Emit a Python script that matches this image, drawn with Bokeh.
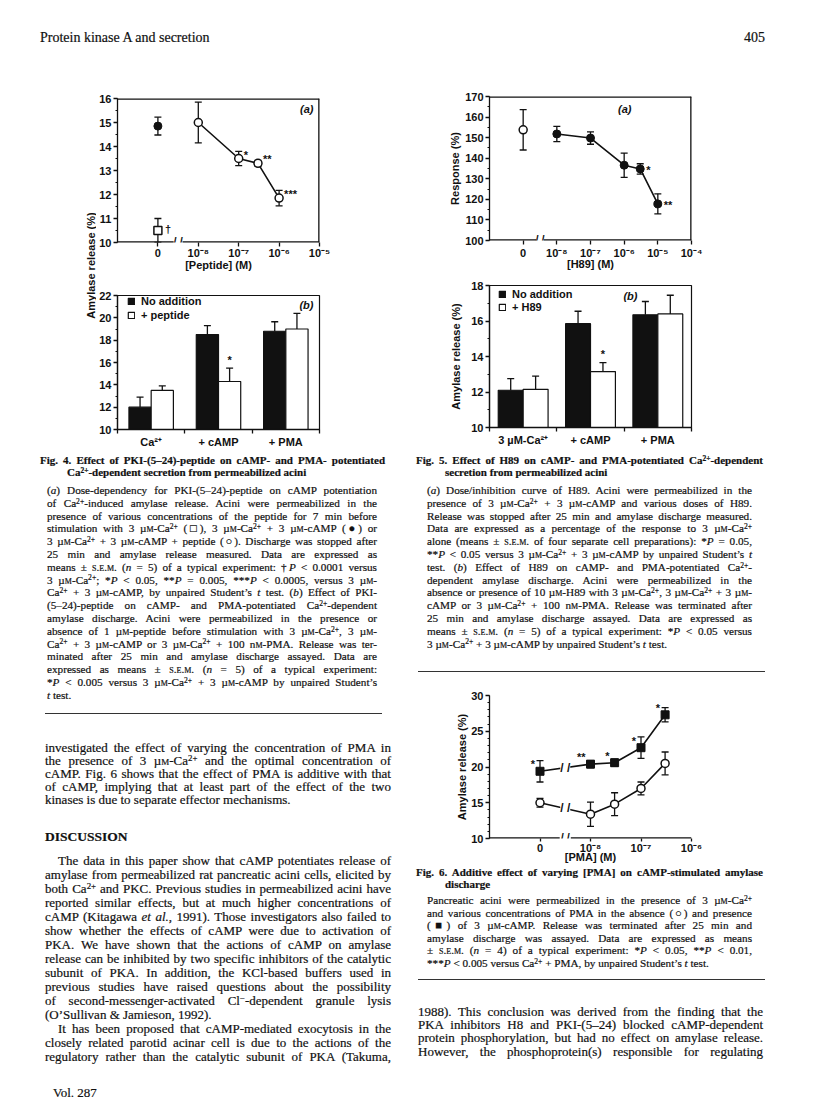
import math
from bokeh.plotting import figure
from bokeh.models import ColumnDataSource, Whisker, TeeHead, FixedTicker, Label, Range1d, Div
from bokeh.layouts import column, row
from bokeh.embed import file_html
from bokeh.resources import INLINE
from bokeh.core.properties import value

# ---------------- data ----------------
# Fig. 4(a)
f4a_conc = [1e-8, 1e-7, 3e-7, 1e-6]
f4a_mean = [15.0, 13.5, 13.3, 11.85]
f4a_sem = [0.85, 0.30, 0.12, 0.32]
f4a_sig = ["", "*", "**", "***"]
f4a_camp_conc = [0]
f4a_camp_mean = [14.85]
f4a_camp_sem = [0.37]
f4a_ca_conc = [0]
f4a_ca_mean = [10.5]
f4a_ca_sem = [0.5]
f4a_ca_sig = ["†"]
f4a_ticks = [0, 1e-8, 1e-7, 1e-6, 1e-5]
f4a_tick_labels = ["0", "10⁻⁸", "10⁻⁷", "10⁻⁶", "10⁻⁵"]

# Fig. 4(b)
f4b_groups = ["Ca²⁺", "+ cAMP", "+ PMA"]
f4b_none_mean = [12.0, 18.5, 18.8]
f4b_none_sem = [0.9, 0.8, 0.85]
f4b_pep_mean = [13.5, 14.3, 19.0]
f4b_pep_sem = [0.4, 1.2, 1.4]
f4b_pep_sig = ["", "*", ""]

# Fig. 5(a)
f5a_conc = [1e-8, 1e-7, 1e-6, 3e-6, 1e-5]
f5a_mean = [151.8, 149.8, 136.6, 134.8, 117.8]
f5a_sem = [3.7, 3.0, 5.9, 2.5, 4.9]
f5a_sig = ["", "", "", "*", "**"]
f5a_ctrl_conc = [0]
f5a_ctrl_mean = [153.8]
f5a_ctrl_sem = [9.8]
f5a_ticks = [0, 1e-8, 1e-7, 1e-6, 1e-5, 1e-4]
f5a_tick_labels = ["0", "10⁻⁸", "10⁻⁷", "10⁻⁶", "10⁻⁵", "10⁻⁴"]

# Fig. 5(b)
f5b_groups = ["3 µM-Ca²⁺", "+ cAMP", "+ PMA"]
f5b_none_mean = [12.1, 15.85, 16.35]
f5b_none_sem = [0.65, 0.7, 0.75]
f5b_h89_mean = [12.15, 13.15, 16.4]
f5b_h89_sem = [0.75, 0.5, 1.05]
f5b_h89_sig = ["", "*", ""]

# Fig. 6
f6_conc = [0, 1e-8, 3e-8, 1e-7, 3e-7]
f6_camp_mean = [19.4, 20.4, 20.6, 22.7, 27.3]
f6_camp_sem = [1.5, 0.5, 0.5, 1.5, 1.0]
f6_camp_sig = ["*", "**", "*", "*", "*"]
f6_ctrl_mean = [15.0, 13.4, 14.8, 17.0, 20.5]
f6_ctrl_sem = [0.6, 1.7, 1.6, 0.9, 1.6]
f6_ticks = [0, 1e-8, 1e-7, 1e-6]
f6_tick_labels = ["0", "10⁻⁸", "10⁻⁷", "10⁻⁶"]

# ---------------- style ----------------
SANS = "Liberation Sans"
SERIF = "Liberation Serif"
INK = "#111111"
ZERO_AT = -9.0   # axis position at which the "0" concentration is drawn
BREAK_AT = -8.5  # axis break position
BREAK_GAP = 0.11
FS = "11px"


def xpos(c):
    return ZERO_AT if c == 0 else math.log10(c)


def style_axis(ax):
    ax.axis_line_color = INK
    ax.axis_line_width = 1.3
    ax.major_tick_line_color = INK
    ax.major_tick_line_width = 1.3
    ax.minor_tick_line_color = INK
    ax.minor_tick_line_width = 1.1
    ax.major_tick_in = 0
    ax.major_tick_out = 4
    ax.minor_tick_in = 0
    ax.minor_tick_out = 2
    ax.major_label_standoff = 2
    ax.major_label_text_font = SANS
    ax.major_label_text_font_size = FS
    ax.major_label_text_font_style = "bold"
    ax.major_label_text_color = INK
    ax.axis_label_text_font = SANS
    ax.axis_label_text_font_size = FS
    ax.axis_label_text_font_style = "bold"
    ax.axis_label_text_color = INK


def make_fig(w, h, left, right, top, bottom, xr, yr, boxed=True):
    p = figure(width=w, height=h, x_range=xr, y_range=yr, output_backend="svg",
               toolbar_location=None, min_border_left=left, min_border_right=right,
               min_border_top=top, min_border_bottom=bottom, margin=(0, 0, 0, 0))
    p.grid.visible = False
    p.outline_line_color = INK if boxed else None
    p.outline_line_width = 1.2
    p.background_fill_color = "white"
    p.border_fill_color = "white"
    style_axis(p.xaxis[0])
    style_axis(p.yaxis[0])
    return p


def text_label(p, x, y, text, dx=0, dy=0, angle=0.0, align="center", baseline="middle",
               style="bold", size=FS):
    p.add_layout(Label(x=x, y=y, text=text, x_offset=dx, y_offset=dy, angle=angle,
                       text_align=align, text_baseline=baseline, text_font=SANS,
                       text_font_size=size, text_font_style=style, text_color=INK))


def add_err(p, xs, means, sems, both=True, head=7):
    src = ColumnDataSource(dict(
        base=list(xs),
        upper=[m + s for m, s in zip(means, sems)],
        lower=[(m - s) if both else m for m, s in zip(means, sems)]))
    w = Whisker(source=src, base="base", upper="upper", lower="lower",
                line_color=INK, line_width=1.3,
                upper_head=TeeHead(size=head, line_color=INK, line_width=1.3),
                lower_head=TeeHead(size=head, line_color=INK, line_width=1.3) if both else None)
    p.add_layout(w)


def add_sig(p, xs, ys, texts, dx, dy, align="left"):
    src = ColumnDataSource(dict(x=list(xs), y=list(ys), t=list(texts)))
    p.text(x="x", y="y", text="t", source=src, x_offset=dx, y_offset=dy,
           text_align=align, text_baseline="middle", text_font=value(SANS),
           text_font_size=FS, text_font_style="bold", text_color=INK)


def line_break(p, x, y):
    p.add_layout(Label(x=x, y=y, text="/ /", text_align="center", text_baseline="middle",
                       text_font=SANS, text_font_size="12px", text_font_style="bold",
                       text_color=INK, background_fill_color="white",
                       background_fill_alpha=1.0))


def broken_frame(p, boxed):
    """Frame edges drawn along the range limits; the bottom edge has an axis break."""
    x0, x1 = p.x_range.start, p.x_range.end
    y0, y1 = p.y_range.start, p.y_range.end
    p.outline_line_color = None
    p.xaxis[0].axis_line_color = None
    xs0 = [x0, BREAK_AT + BREAK_GAP]
    xs1 = [BREAK_AT - BREAK_GAP, x1]
    ys0 = [y0, y0]
    ys1 = [y0, y0]
    if boxed:
        xs0 += [x0, x1]
        xs1 += [x1, x1]
        ys0 += [y1, y0]
        ys1 += [y1, y1]
    p.segment(x0=xs0, y0=ys0, x1=xs1, y1=ys1, line_color=INK, line_width=2.6)
    p.add_layout(Label(x=BREAK_AT, y=y0, text="/ /", text_align="center", text_baseline="middle",
                       y_offset=2, text_font=SANS, text_font_size="11px",
                       text_font_style="bold", text_color=INK))


def panel_label(p, text, dx, dy):
    text_label(p, p.x_range.end, p.y_range.end, text, dx, dy, align="right",
               baseline="top", style="bold italic")


def log_xaxis(p, ticks, labels, title, standoff):
    pos = [xpos(c) for c in ticks]
    ax = p.xaxis[0]
    ax.ticker = FixedTicker(ticks=pos)
    ax.major_label_overrides = {v: l for v, l in zip(pos, labels)}
    ax.axis_label = title
    ax.axis_label_standoff = standoff


def y_ticks(p, lo, hi, step, minor):
    majors = []
    v = lo
    while v <= hi + 1e-9:
        majors.append(v)
        v += step
    minors = []
    v = lo
    while v <= hi + 1e-9:
        minors.append(v)
        v += minor
    p.yaxis[0].ticker = FixedTicker(ticks=majors, minor_ticks=minors)


def bar_xaxis(p, groups):
    centers = [i + 0.5 for i in range(len(groups))]
    p.xaxis[0].ticker = FixedTicker(ticks=centers, minor_ticks=list(range(len(groups) + 1)))
    p.xaxis[0].major_tick_out = 0
    p.xaxis[0].minor_tick_out = 4
    p.xaxis[0].minor_tick_line_width = 1.3
    p.xaxis[0].major_label_overrides = {c: g for c, g in zip(centers, groups)}
    return centers


def style_legend(p, loc, spacing=1):
    lg = p.legend[0]
    lg.location = loc
    lg.border_line_color = None
    lg.background_fill_alpha = 0
    lg.label_text_font = SANS
    lg.label_text_font_size = FS
    lg.label_text_font_style = "bold"
    lg.label_text_color = INK
    lg.glyph_width = 8
    lg.glyph_height = 8
    lg.label_height = 12
    lg.label_standoff = 6
    lg.spacing = spacing
    lg.padding = 0
    lg.margin = 0


# ---------------- Fig. 4 ----------------
ylab4 = figure(width=96, height=398, x_range=Range1d(0, 96), y_range=Range1d(398, 0),
               output_backend="svg", toolbar_location=None, min_border=0,
               margin=(0, 0, 0, 0))
ylab4.axis.visible = False
ylab4.grid.visible = False
ylab4.outline_line_color = None
text_label(ylab4, 90, 210, "Amylase release (%)", angle=math.pi / 2)

p4a = make_fig(308, 227, 21, 85, 43, 40, Range1d(-10, -5), Range1d(10, 16))
log_xaxis(p4a, f4a_ticks, f4a_tick_labels, "[Peptide] (M)", -3)
p4a.xaxis[0].major_label_standoff = 0
y_ticks(p4a, 10, 16, 1, 0.5)
broken_frame(p4a, True)
xs = [xpos(c) for c in f4a_conc]
add_err(p4a, xs, f4a_mean, f4a_sem)
xc = [xpos(c) for c in f4a_camp_conc]
add_err(p4a, xc, f4a_camp_mean, f4a_camp_sem)
xq = [xpos(c) for c in f4a_ca_conc]
add_err(p4a, xq, f4a_ca_mean, f4a_ca_sem)
p4a.line(xs, f4a_mean, line_color=INK, line_width=1.6)
p4a.scatter(xs, f4a_mean, marker="circle", size=8, fill_color="white", line_color=INK, line_width=1.5)
p4a.scatter(xc, f4a_camp_mean, marker="circle", size=8, fill_color=INK, line_color=INK)
p4a.scatter(xq, f4a_ca_mean, marker="square", size=8, fill_color="white", line_color=INK, line_width=1.5)
add_sig(p4a, xs, f4a_mean, f4a_sig, 5, -4)
add_sig(p4a, xq, f4a_ca_mean, f4a_ca_sig, 7, -2)
panel_label(p4a, "(a)", -6, -4)

p4b = make_fig(308, 171, 21, 85, 13, 24, Range1d(0, 3), Range1d(10, 22))
c4 = bar_xaxis(p4b, f4b_groups)
y_ticks(p4b, 10, 22, 2, 1)
BW4 = 0.33
x_none4 = [c - BW4 / 2 for c in c4]
x_pep4 = [c + BW4 / 2 for c in c4]
add_err(p4b, x_none4, f4b_none_mean, f4b_none_sem, both=False)
add_err(p4b, x_pep4, f4b_pep_mean, f4b_pep_sem, both=False)
p4b.vbar(x=x_none4, top=f4b_none_mean, width=BW4, fill_color=INK, line_color=INK,
         line_width=1.2, legend_label="No addition")
p4b.vbar(x=x_pep4, top=f4b_pep_mean, width=BW4, fill_color="white", line_color=INK,
         line_width=1.2, legend_label="+ peptide")
add_sig(p4b, x_pep4, [m + s for m, s in zip(f4b_pep_mean, f4b_pep_sem)], f4b_pep_sig, 0, -8, "center")
style_legend(p4b, (10, 108), spacing=2)
panel_label(p4b, "(b)", -6, -3)

# ---------------- Fig. 5 ----------------
p5a = make_fig(412, 225, 84, 125, 41, 40, Range1d(-10, -4), Range1d(100, 170))
log_xaxis(p5a, f5a_ticks, f5a_tick_labels, "[H89] (M)", -4)
y_ticks(p5a, 100, 170, 10, 5)
p5a.yaxis[0].axis_label = "Response (%)"
p5a.yaxis[0].axis_label_standoff = 1
broken_frame(p5a, True)
xs5 = [xpos(c) for c in f5a_conc]
xc5 = [xpos(c) for c in f5a_ctrl_conc]
add_err(p5a, xs5, f5a_mean, f5a_sem)
add_err(p5a, xc5, f5a_ctrl_mean, f5a_ctrl_sem)
p5a.line(xs5, f5a_mean, line_color=INK, line_width=1.6)
p5a.scatter(xs5, f5a_mean, marker="circle", size=8, fill_color=INK, line_color=INK)
p5a.scatter(xc5, f5a_ctrl_mean, marker="circle", size=8, fill_color="white", line_color=INK, line_width=1.5)
add_sig(p5a, xs5, f5a_mean, f5a_sig, 6, 1)
panel_label(p5a, "(a)", -60, -6)

p5b = make_fig(412, 173, 84, 125, 5, 26, Range1d(0, 3), Range1d(10, 18))
c5 = bar_xaxis(p5b, f5b_groups)
y_ticks(p5b, 10, 18, 2, 1)
p5b.yaxis[0].axis_label = "Amylase release (%)"
p5b.yaxis[0].axis_label_standoff = 6
BW5 = 0.37
x_none5 = [c - BW5 / 2 for c in c5]
x_h89 = [c + BW5 / 2 for c in c5]
add_err(p5b, x_none5, f5b_none_mean, f5b_none_sem, both=False)
add_err(p5b, x_h89, f5b_h89_mean, f5b_h89_sem, both=False)
p5b.vbar(x=x_none5, top=f5b_none_mean, width=BW5, fill_color=INK, line_color=INK,
         line_width=1.2, legend_label="No addition")
p5b.vbar(x=x_h89, top=f5b_h89_mean, width=BW5, fill_color="white", line_color=INK,
         line_width=1.2, legend_label="+ H89")
add_sig(p5b, x_h89, [m + s for m, s in zip(f5b_h89_mean, f5b_h89_sem)], f5b_h89_sig, 0, -9, "center")
style_legend(p5b, (9, 114))
panel_label(p5b, "(b)", -54, -4)

# ---------------- Fig. 6 ----------------
p6 = make_fig(412, 191, 85, 123, 20, 28, Range1d(-10, -6), Range1d(10, 30), boxed=False)
log_xaxis(p6, f6_ticks, f6_tick_labels, "[PMA] (M)", -6)
p6.xaxis[0].major_tick_out = 3
p6.xaxis[0].major_label_standoff = 0
y_ticks(p6, 10, 30, 5, 1)
p6.yaxis[0].axis_label = "Amylase release (%)"
p6.yaxis[0].axis_label_standoff = 0
broken_frame(p6, False)
xs6 = [xpos(c) for c in f6_conc]
add_err(p6, xs6, f6_camp_mean, f6_camp_sem)
add_err(p6, xs6, f6_ctrl_mean, f6_ctrl_sem)
p6.line(xs6, f6_camp_mean, line_color=INK, line_width=1.6)
p6.line(xs6, f6_ctrl_mean, line_color=INK, line_width=1.6)
p6.scatter(xs6, f6_camp_mean, marker="square", size=8, fill_color=INK, line_color=INK)
p6.scatter(xs6, f6_ctrl_mean, marker="circle", size=8, fill_color="white", line_color=INK, line_width=1.5)
add_sig(p6, xs6, f6_camp_mean, f6_camp_sig, -5, -7, "right")
for series in (f6_camp_mean, f6_ctrl_mean):
    t = (BREAK_AT - xs6[0]) / (xs6[1] - xs6[0])
    line_break(p6, BREAK_AT, series[0] + t * (series[1] - series[0]))

# ---------------- text blocks ----------------
def SC(s):
    return f'<span style="font-variant:small-caps">{s}</span>'


def SUP(s):
    return f'<span style="font-size:68%;position:relative;top:-0.42em">{s}</span>'


uM = "µ" + SC("m")
nM = "n" + SC("m")
SEM = SC("s.e.m.")
CA = "Ca" + SUP("2+")


def L(x, yc, w, html, size, lh, align="justify", weight="normal"):
    return dict(x=x, yc=yc, w=w, html=html, size=size, lh=lh, align=align, weight=weight)


def block(ox, oy, width, height, lines, rules=()):
    out = [f'<div style="position:relative;width:{width}px;height:{height}px;overflow:visible;'
           f'font-family:\'{SERIF}\';color:{INK};">']
    for ln in lines:
        top = ln["yc"] - oy - ln["lh"] / 2
        left = ln["x"] - ox
        al = ln["align"]
        out.append(
            f'<div style="position:absolute;left:{left:.1f}px;top:{top:.1f}px;width:{ln["w"]}px;'
            f'height:{ln["lh"]}px;font-size:{ln["size"]}px;line-height:{ln["lh"]}px;'
            f'font-weight:{ln["weight"]};text-align:{al};text-align-last:{al};white-space:nowrap;'
            f'-webkit-text-stroke:0.2px {INK};">{ln["html"]}</div>')
    for (x0, x1, y) in rules:
        out.append(f'<div style="position:absolute;left:{x0 - ox}px;top:{y - oy}px;width:{x1 - x0}px;'
                   f'height:0;border-top:1.5px solid #333;"></div>')
    out.append('</div>')
    return "".join(out)


CAP = 11.2
CAPSP = 12.8
CAPLH = 12
BODY = 13
TIT = 11

# Left column text (page x 0..404, y 453..1100)
cap4 = [
    "(<i>a</i>) Dose-dependency for PKI-(5–24)-peptide on cAMP potentiation",
    f"of {CA}-induced amylase release. Acini were permeabilized in the",
    "presence of various concentrations of the peptide for 7 min before",
    f"stimulation with 3 {uM}-{CA} (□), 3 {uM}-{CA} + 3 {uM}-cAMP (●) or",
    f"3 {uM}-{CA} + 3 {uM}-cAMP + peptide (○). Discharge was stopped after",
    "25 min and amylase release measured. Data are expressed as",
    f"means ± {SEM} (<i>n</i> = 5) of a typical experiment: †<i>P</i> &lt; 0.0001 versus",
    f"3 {uM}-{CA}; *<i>P</i> &lt; 0.05, **<i>P</i> = 0.005, ***<i>P</i> &lt; 0.0005, versus 3 {uM}-",
    f"{CA} + 3 {uM}-cAMP, by unpaired Student’s <i>t</i> test. (<i>b</i>) Effect of PKI-",
    f"(5–24)-peptide on cAMP- and PMA-potentiated {CA}-dependent",
    "amylase discharge. Acini were permeabilized in the presence or",
    f"absence of 1 {uM}-peptide before stimulation with 3 {uM}-{CA}, 3 {uM}-",
    f"{CA} + 3 {uM}-cAMP or 3 {uM}-{CA} + 100 {nM}-PMA. Release was ter-",
    "minated after 25 min and amylase discharge assayed. Data are",
    f"expressed as means ± {SEM} (<i>n</i> = 5) of a typical experiment:",
    f"*<i>P</i> &lt; 0.005 versus 3 {uM}-{CA} + 3 {uM}-cAMP by unpaired Student’s",
    "<i>t</i> test.",
]
body4a = [
    "investigated the effect of varying the concentration of PMA in",
    f"the presence of 3 {uM}-{CA} and the optimal concentration of",
    "cAMP. Fig. 6 shows that the effect of PMA is additive with that",
    "of cAMP, implying that at least part of the effect of the two",
    "kinases is due to separate effector mechanisms.",
]
disc = [
    "The data in this paper show that cAMP potentiates release of",
    "amylase from permeabilized rat pancreatic acini cells, elicited by",
    f"both {CA} and PKC. Previous studies in permeabilized acini have",
    "reported similar effects, but at much higher concentrations of",
    "cAMP (Kitagawa <i>et al.</i>, 1991). Those investigators also failed to",
    "show whether the effects of cAMP were due to activation of",
    "PKA. We have shown that the actions of cAMP on amylase",
    "release can be inhibited by two specific inhibitors of the catalytic",
    "subunit of PKA. In addition, the KCl-based buffers used in",
    "previous studies have raised questions about the possibility",
    f"of second-messenger-activated Cl{SUP('−')}-dependent granule lysis",
    "(O’Sullivan &amp; Jamieson, 1992).",
    "It has been proposed that cAMP-mediated exocytosis in the",
    "closely related parotid acinar cell is due to the actions of the",
    "regulatory rather than the catalytic subunit of PKA (Takuma,",
]
left_lines = [
    L(40, 460, 345, "Fig. 4. Effect of PKI-(5–24)-peptide on cAMP- and PMA- potentiated", TIT, 12, weight="bold"),
    L(67, 472, 320, f"{CA}-dependent secretion from permeabilized acini", TIT, 12, "left", "bold"),
]
for i, h in enumerate(cap4):
    left_lines.append(L(47, 490 + i * CAPSP, 330, h, CAP, CAPLH, "left" if i == len(cap4) - 1 else "justify"))
for i, h in enumerate(body4a):
    left_lines.append(L(45, 747 + i * 13.1, 346, h, BODY, 13, "left" if i == len(body4a) - 1 else "justify"))
left_lines.append(L(45, 837, 200, "DISCUSSION", 13.5, 14, "left", "bold"))
for i, h in enumerate(disc):
    indent = i in (0, 12)
    x = 58 if indent else 45
    w = 333 if indent else 346
    left_lines.append(L(x, 861 + i * 14, w, h, BODY, 13.5, "left" if i == 11 else "justify"))
left_lines.append(L(53, 1092, 100, "Vol. 287", BODY, 13, "left"))
div4 = Div(text=block(0, 453, 404, 647, left_lines, rules=[(45, 382, 713)]),
           width=404, height=647, margin=(0, 0, 0, 0))

# Right column caption of Fig. 5 (page x 404..816, y 453..675)
cap5 = [
    "(<i>a</i>) Dose/inhibition curve of H89. Acini were permeabilized in the",
    f"presence of 3 {uM}-{CA} + 3 {uM}-cAMP and various doses of H89.",
    "Release was stopped after 25 min and amylase discharge measured.",
    f"Data are expressed as a percentage of the response to 3 {uM}-{CA}",
    f"alone (means ± {SEM} of four separate cell preparations): *<i>P</i> = 0.05,",
    f"**<i>P</i> &lt; 0.05 versus 3 {uM}-{CA} + 3 {uM}-cAMP by unpaired Student’s <i>t</i>",
    f"test. (<i>b</i>) Effect of H89 on cAMP- and PMA-potentiated {CA}-",
    "dependent amylase discharge. Acini were permeabilized in the",
    f"absence or presence of 10 {uM}-H89 with 3 {uM}-{CA}, 3 {uM}-{CA} + 3 {uM}-",
    f"cAMP or 3 {uM}-{CA} + 100 {nM}-PMA. Release was terminated after",
    "25 min and amylase discharge assayed. Data are expressed as",
    f"means ± {SEM} (<i>n</i> = 5) of a typical experiment: *<i>P</i> &lt; 0.05 versus",
    f"3 {uM}-{CA} + 3 {uM}-cAMP by unpaired Student’s <i>t</i> test.",
]
r5_lines = [
    L(416, 460, 347, f"Fig. 5. Effect of H89 on cAMP- and PMA-potentiated {CA}-dependent", TIT, 12, weight="bold"),
    L(445, 472, 300, "secretion from permeabilized acini", TIT, 12, "left", "bold"),
]
for i, h in enumerate(cap5):
    r5_lines.append(L(427, 490 + i * CAPSP, 325, h, CAP, CAPLH, "left" if i == len(cap5) - 1 else "justify"))
div5 = Div(text=block(404, 453, 412, 222, r5_lines, rules=[(418, 765, 671)]),
           width=412, height=222, margin=(0, 0, 0, 0))

# Right column caption of Fig. 6 + body (page x 404..816, y 866..1100)
cap6 = [
    f"Pancreatic acini were permeabilized in the presence of 3 {uM}-{CA}",
    "and various concentrations of PMA in the absence (○) and presence",
    f"(■) of 3 {uM}-cAMP. Release was terminated after 25 min and",
    "amylase discharge was assayed. Data are expressed as means",
    f"± {SEM} (<i>n</i> = 4) of a typical experiment: *<i>P</i> &lt; 0.05, **<i>P</i> &lt; 0.01,",
    f"***<i>P</i> &lt; 0.005 versus {CA} + PMA, by unpaired Student’s <i>t</i> test.",
]
body6 = [
    "1988). This conclusion was derived from the finding that the",
    "PKA inhibitors H8 and PKI-(5–24) blocked cAMP-dependent",
    "protein phosphorylation, but had no effect on amylase release.",
    "However, the phosphoprotein(s) responsible for regulating",
]
r6_lines = [
    L(416, 872, 347, "Fig. 6. Additive effect of varying [PMA] on cAMP-stimulated amylase", TIT, 11, weight="bold"),
    L(445, 884, 300, "discharge", TIT, 11, "left", "bold"),
]
for i, h in enumerate(cap6):
    r6_lines.append(L(427, 900 + i * 12.6, 325, h, CAP, CAPLH, "left" if i == len(cap6) - 1 else "justify"))
for i, h in enumerate(body6):
    r6_lines.append(L(418, 1011 + i * 13.4, 345, h, BODY, 13, "justify"))
div6 = Div(text=block(404, 866, 412, 234, r6_lines, rules=[(418, 765, 979)]),
           width=412, height=234, margin=(0, 0, 0, 0))

header = Div(text=(f'<div style="position:relative;width:816px;height:55px;font-family:\'{SERIF}\';'
                   f'font-size:14px;color:{INK};-webkit-text-stroke:0.2px {INK};">'
                   '<div style="position:absolute;left:40px;top:30px;line-height:16px;white-space:nowrap;">'
                   'Protein kinase A and secretion</div>'
                   '<div style="position:absolute;right:51px;top:30px;line-height:16px;white-space:nowrap;">'
                   '405</div></div>'),
             width=816, height=55, margin=(0, 0, 0, 0))

left_col = column(row(ylab4, column(p4a, p4b, spacing=0), spacing=0), div4, spacing=0)
right_col = column(p5a, p5b, div5, p6, div6, spacing=0)
page = column(header, row(left_col, right_col, spacing=0), spacing=0)

open("out.html", "w").write(file_html(page, INLINE, title="Protein kinase A and secretion"))
